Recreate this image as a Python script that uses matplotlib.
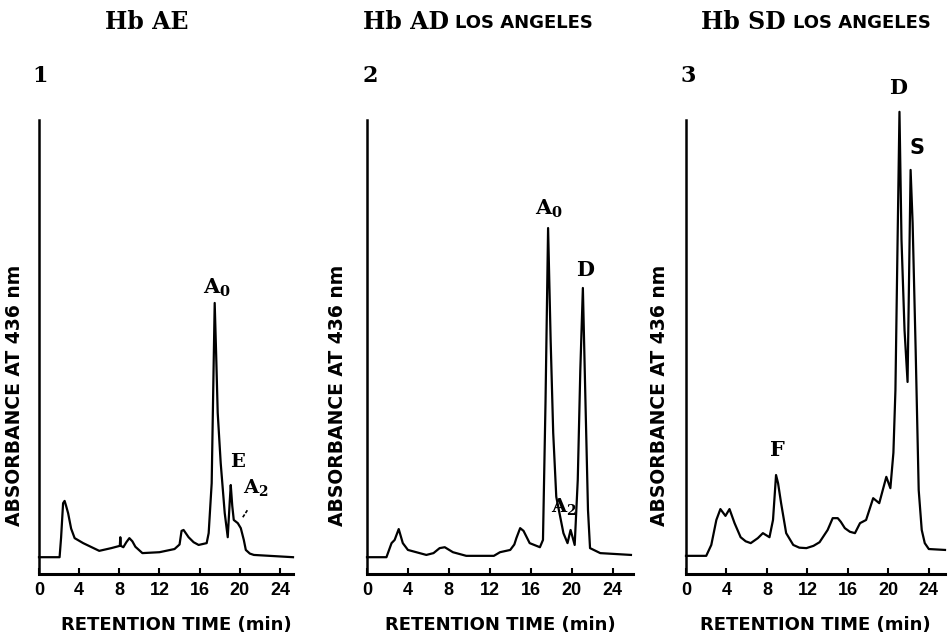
import matplotlib
matplotlib.use("Agg")
import matplotlib.pyplot as plt

plt.rcParams['mathtext.fontset'] = 'dejavuserif'

# Chromatogram traces: retention time (min) and absorbance (arbitrary units, axis top = 100)
# Panel 1: Hb AE
t_ae = [0, 2.05, 2.2, 2.4, 2.55, 2.7, 2.9, 3.2, 3.55, 4.4, 6.0, 7.2, 8.05, 8.1, 8.15, 8.4, 8.7, 9.0,
        9.3, 9.6, 10.3, 12.0, 13.5, 14.0, 14.2, 14.4, 14.9, 15.4, 15.9, 16.7, 16.9, 17.2, 17.35,
        17.5, 17.65, 17.8, 18.1, 18.5, 18.8, 19.0, 19.1, 19.25, 19.4, 19.8, 20.1, 20.4, 20.6,
        21.0, 21.4, 25.3]
a_ae = [3.7, 3.7, 8.0, 15.6, 16.1, 15.0, 13.4, 10.0, 7.9, 6.8, 5.1, 5.7, 6.2, 8.1, 6.2, 5.9, 7.0, 7.9,
        7.2, 6.0, 4.6, 4.8, 5.5, 6.5, 9.5, 9.7, 8.1, 7.0, 6.4, 6.8, 9.0, 20.0, 40.0,
        59.7, 48.0, 35.5, 24.4, 13.4, 8.1, 16.0, 19.6, 15.0, 11.9, 11.2, 10.1, 7.5, 5.3,
        4.5, 4.2, 3.7]

# Panel 2: Hb AD Los Angeles
t_ad = [0, 1.9, 2.4, 2.7, 3.1, 3.5, 4.0, 5.8, 6.5, 7.1, 7.6, 8.4, 9.7, 12.4, 13.0, 14.0, 14.4,
        14.6, 14.97, 15.3, 15.5, 15.9, 16.9, 17.2, 17.45, 17.7, 17.95, 18.2, 18.5, 19.2, 19.6,
        19.9, 20.3, 20.6, 20.85, 21.1, 21.35, 21.6, 21.8, 22.8, 25.8]
a_ad = [3.7, 3.7, 6.8, 7.5, 9.9, 6.8, 5.3, 4.2, 4.6, 5.7, 5.9, 4.8, 4.0, 4.0, 4.8, 5.3, 6.5,
        7.9, 10.1, 9.5, 8.6, 6.8, 5.9, 7.5, 38.0, 76.2, 51.5, 31.1, 17.0, 9.0, 6.8,
        9.7, 6.4, 20.7, 44.9, 63.0, 38.3, 14.1, 5.7, 4.6, 4.2]

# Panel 3: Hb SD Los Angeles
t_sd = [0, 2.0, 2.5, 3.0, 3.4, 3.9, 4.3, 4.8, 5.4, 5.9, 6.4, 7.1, 7.6, 8.25, 8.6, 8.9, 9.1, 9.4,
        9.9, 10.6, 11.2, 11.9, 12.6, 13.2, 14.0, 14.5, 15.0, 15.3, 15.7, 16.2, 16.7, 17.2, 17.8,
        18.5, 19.1, 19.8, 20.2, 20.5, 20.7, 20.9, 21.1, 21.3, 21.6, 21.9, 22.2, 22.4, 22.7, 23.0,
        23.3, 23.6, 24.0, 25.6]
a_sd = [4.0, 4.0, 6.4, 11.9, 14.3, 12.8, 14.3, 11.2, 8.1, 7.2, 6.8, 7.9, 9.0, 8.1, 11.9, 21.8, 20.0,
        15.6, 9.0, 6.4, 5.8, 5.7, 6.2, 7.0, 9.7, 12.3, 12.3, 11.5, 10.1, 9.3, 9.0, 11.2, 11.9,
        16.7, 15.6, 21.4, 18.9, 26.7, 40.5, 71.4, 101.8, 73.6, 53.7, 42.3, 89.0, 77.3, 49.3, 18.5,
        9.7, 6.8, 5.5, 5.3]

x_ticks = [4, 8, 12, 16, 20, 24]
x_tick_labels = ["4", "8", "12", "16", "20", "24"]

W, H = 953, 640
fig = plt.figure(figsize=(W / 100, H / 100), dpi=100)

serif_b = dict(family="DejaVu Serif", fontweight="bold")
sans_b = dict(family="DejaVu Sans", fontweight="bold")


def make_panel(left_px, right_px, xmax, t, a):
    ax = fig.add_axes([left_px / W, (H - 574) / H, (right_px - left_px) / W, (574 - 120) / H])
    ax.plot(t, a, color="black", lw=1.6, clip_on=False, solid_joinstyle="round")
    ax.set_xlim(0, xmax)
    ax.set_ylim(0, 100)
    for s in ["top", "right"]:
        ax.spines[s].set_visible(False)
    ax.spines["left"].set_linewidth(1.8)
    ax.spines["bottom"].set_linewidth(2.2)
    ax.set_yticks([])
    ax.set_xticks([0] + x_ticks)
    ax.set_xticklabels(["0"] + x_tick_labels, family="Liberation Sans", fontweight="bold", fontsize=13)
    ax.tick_params(axis="x", direction="in", length=4, width=1.5, pad=6)
    ax.patch.set_alpha(0)
    return ax


ax1 = make_panel(39, 293, 25.3, t_ae, a_ae)
ax2 = make_panel(367, 633, 26.0, t_ad, a_ad)
ax3 = make_panel(686, 945, 25.6, t_sd, a_sd)

# peak labels
ax1.text(17.7, 60.5, r"$\mathbf{A}_\mathbf{0}$", ha="center", va="bottom", fontsize=15)
ax1.text(19.8, 24.7, "E", ha="center", va="center", fontsize=14, **serif_b)
ax1.text(21.6, 19.0, r"$\mathbf{A}_\mathbf{2}$", ha="center", va="center", fontsize=14)
ax1.plot([20.3, 20.8], [12.5, 14.2], color="black", lw=1.2, ls=(0, (2, 1)))

ax2.text(17.8, 78.0, r"$\mathbf{A}_\mathbf{0}$", ha="center", va="bottom", fontsize=15)
ax2.text(21.3, 67.0, "D", ha="center", va="center", fontsize=15, **serif_b)
ax2.text(19.2, 14.8, r"$\mathbf{A}_\mathbf{2}$", ha="center", va="center", fontsize=14)

ax3.text(21.0, 107.0, "D", ha="center", va="center", fontsize=15, **serif_b)
ax3.text(22.8, 93.8, "S", ha="center", va="center", fontsize=15, **sans_b)
ax3.text(9.0, 27.3, "F", ha="center", va="center", fontsize=15, **serif_b)

# axis labels
for ylab_x in [15, 338, 660]:
    fig.text(ylab_x / W, 1 - 395 / H, "ABSORBANCE AT 436 nm", rotation=90,
             ha="center", va="center", fontsize=13.5, **sans_b)
for xc in [176, 500, 815]:
    fig.text(xc / W, 1 - 625 / H, "RETENTION TIME (min)", ha="center", va="center",
             fontsize=13, **sans_b)

# panel numbers
for num, xc in [("1", 40), ("2", 370), ("3", 688)]:
    fig.text(xc / W, 1 - 76 / H, num, ha="center", va="center", fontsize=16, **serif_b)

# titles
fig.text(147 / W, 1 - 22 / H, "Hb AE", ha="center", va="center", fontsize=17, **serif_b)
fig.text(449 / W, 1 - 22 / H, "Hb AD", ha="right", va="center", fontsize=17, **serif_b)
fig.text(455 / W, 1 - 23 / H, "LOS ANGELES", ha="left", va="center", fontsize=13, **sans_b)
fig.text(786 / W, 1 - 22 / H, "Hb SD", ha="right", va="center", fontsize=17, **serif_b)
fig.text(793 / W, 1 - 23 / H, "LOS ANGELES", ha="left", va="center", fontsize=13, **sans_b)

fig.savefig("out.png", dpi=100, facecolor="white")
